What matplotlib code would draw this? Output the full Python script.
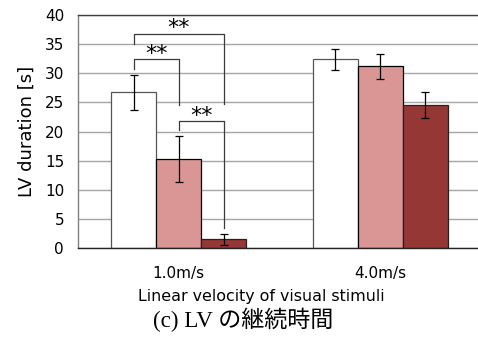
import numpy as np
import matplotlib.pyplot as plt

groups = ['1.0m/s', '4.0m/s']
cond_a = [26.7, 32.4]
cond_a_err = [3.05, 1.8]
cond_b = [15.3, 31.2]
cond_b_err = [3.9, 2.15]
cond_c = [1.5, 24.6]
cond_c_err = [0.95, 2.25]

# significance brackets: (bar from, bar to, top, left leg end, right leg end)
brackets = [
    (0, 2, 36.8, 35.1, 24.7),
    (0, 1, 32.4, 30.8, 24.6),
    (1, 2, 21.8, 20.2, 3.5),
]

fig = plt.figure(figsize=(4.78, 3.4), dpi=100)
ax = fig.add_axes([78 / 478, 92 / 340, 403 / 478, 233 / 340])

x = np.array([0.5, 1.5])
w = 0.223
offs = [-w, 0, w]
vals = [cond_a, cond_b, cond_c]
errs = [cond_a_err, cond_b_err, cond_c_err]
colors = ['white', '#D99694', '#953735']
edges = ['#555555', 'black', '#222222']

for o, v, e, c, ec in zip(offs, vals, errs, colors, edges):
    ax.bar(x + o, v, w, color=c, edgecolor=ec, linewidth=0.9, zorder=2)
    ax.errorbar(x + o, v, yerr=e, fmt='none', ecolor='black', elinewidth=0.9,
                capsize=3, capthick=0.9, zorder=3)

# brackets over the 1.0m/s group
for i, j, top, yl, yr in brackets:
    xl = x[0] + offs[i]
    xr = x[0] + offs[j]
    ax.plot([xl, xl, xr, xr], [yl, top, top, yr], color='#3a3a3a', lw=0.9, zorder=4)
    ax.text((xl + xr) / 2, top - 0.1, '**', ha='center', va='baseline',
            fontsize=16, zorder=4)

ax.set_xlim(0, 2)
ax.set_ylim(0, 40)
ax.set_yticks(range(0, 41, 5))
ax.set_xticks(x)
ax.set_xticklabels(groups)
ax.tick_params(length=0, labelsize=11)
ax.tick_params(axis='x', pad=13)
ax.tick_params(axis='y', pad=10)
ax.yaxis.grid(True, color='#a6a6a6', lw=1, zorder=0)
ax.set_axisbelow(True)

ax.spines['left'].set_color('#808080')
ax.spines['top'].set_color('#404040')
ax.spines['bottom'].set_color('#222222')
ax.spines['right'].set_visible(False)
for s in ax.spines.values():
    s.set_linewidth(1)

fig.text(27 / 478, 1 - 131 / 340, 'LV duration [s]', rotation=90,
         ha='center', va='center', fontsize=13)
fig.text(261 / 478, 1 - 297 / 340, 'Linear velocity of visual stimuli',
         ha='center', va='center', fontsize=11.4)
fig.text(243 / 478, 1 - 320 / 340, '(c) LV の継続時間',
         ha='center', va='center', fontsize=16.6,
         family=['Liberation Serif', 'Noto Sans CJK JP'])

fig.savefig('out.png', dpi=100)
